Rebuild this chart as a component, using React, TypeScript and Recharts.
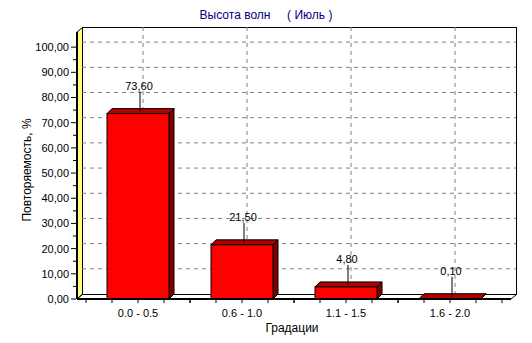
import { BarChart, Bar, XAxis, YAxis, CartesianGrid, LabelList } from 'recharts';

const categories = ['0.0 - 0.5', '0.6 - 1.0', '1.1 - 1.5', '1.6 - 2.0'];
const repeatability = [73.6, 21.5, 4.8, 0.1];
const yTicks = [0, 10, 20, 30, 40, 50, 60, 70, 80, 90, 100];
const yMax = 106;

const data = categories.map((grad, i) => ({ grad, value: repeatability[i] }));

const W = 532;
const H = 343;
const PLOT = { left: 77, top: 32, right: 21, bottom: 44 };
const PW = W - PLOT.left - PLOT.right;
const PH = H - PLOT.top - PLOT.bottom;
const DEPTH = 5;
const XPAD = 9;
const FONT = '"Liberation Sans", Arial, sans-serif';
const fmt = (v: number) => v.toFixed(2).replace('.', ',');

// library scale if the grid hands it over, otherwise the plot offset
function yPos(yAxis: any, offset: any, v: number) {
  const s = yAxis && yAxis.scale;
  if (typeof s === 'function') return s(v);
  if (s && typeof s.map === 'function') return s.map(v);
  return offset.top + offset.height * (1 - v / yMax);
}

function xCenter(xAxis: any, offset: any, i: number) {
  const s = xAxis && xAxis.scale;
  if (typeof s === 'function' && typeof s.bandwidth === 'function') return s(categories[i]) + s.bandwidth() / 2;
  const band = (offset.width - 2 * XPAD) / categories.length;
  return offset.left + XPAD + band * (i + 0.5);
}

// back wall, left wall and floor of the 3D box, behind the chart
function Walls() {
  const x = PLOT.left;
  const y = PLOT.top;
  const b = y + PH;
  const d = DEPTH;
  return (
    <svg width={W} height={H} style={{ position: 'absolute', left: 0, top: 0 }}>
      <rect x={x + d + 0.5} y={y - d + 0.5} width={PW} height={PH} fill="#fff" stroke="#000" />
      <polygon
        points={`${x},${y} ${x + d + 0.5},${y - d + 0.5} ${x + d + 0.5},${b - d} ${x},${b}`}
        fill="#ffff80"
        stroke="#000"
      />
      <polygon
        points={`${x},${b} ${x + d + 0.5},${b - d + 0.5} ${x + PW + d + 0.5},${b - d + 0.5} ${x + PW},${b}`}
        fill="#fff"
        stroke="#000"
      />
    </svg>
  );
}

function Bar3D(props: any) {
  const { x, y, width, height } = props;
  const d = DEPTH;
  const r = x + width;
  return (
    <g>
      <polygon
        points={`${r},${y} ${r + d},${y - d} ${r + d},${y + height - d} ${r},${y + height}`}
        fill="#800000"
        stroke="#000"
      />
      <polygon
        points={`${x},${y} ${x + d},${y - d} ${r + d},${y - d} ${r},${y}`}
        fill="#b00000"
        stroke="#000"
      />
      <rect x={x} y={y} width={width} height={height} fill="#ff0000" stroke="#000" />
    </g>
  );
}

function MarkLabel(props: any) {
  const { x, y, width, value } = props;
  const cx = x + width / 2 + 2;
  return (
    <g>
      <line x1={cx} y1={y - 2} x2={cx} y2={y - 22} stroke="#000" />
      <text
        x={x + width / 2 + 1}
        y={y - 28}
        textAnchor="middle"
        dominantBaseline="central"
        fontFamily={FONT}
        fontSize={11}
        fill="#000"
      >
        {fmt(value)}
      </text>
    </g>
  );
}

function XTick(props: any) {
  const { x, y, payload } = props;
  return (
    <g>
      {[-52, -26, 0, 26, 52].map((o) => (
        <line key={o} x1={x + o} y1={y} x2={x + o} y2={y + 4} stroke="#000" />
      ))}
      <text
        x={x}
        y={y + 14}
        textAnchor="middle"
        dominantBaseline="central"
        fontFamily={FONT}
        fontSize={11}
        fill="#000"
      >
        {payload.value}
      </text>
    </g>
  );
}

function YTick(props: any) {
  const { x, y, payload } = props;
  const half = 12.6;
  return (
    <g>
      <line x1={x - 6} y1={y} x2={x - 1} y2={y} stroke="#000" />
      {payload.value > 0 && <line x1={x - 4} y1={y + half} x2={x - 1} y2={y + half} stroke="#000" />}
      <text
        x={x - 8}
        y={y}
        textAnchor="end"
        dominantBaseline="central"
        fontFamily={FONT}
        fontSize={11}
        fill="#000"
      >
        {fmt(payload.value)}
      </text>
    </g>
  );
}

export default function App() {
  return (
    <div style={{ position: 'absolute', left: 0, top: 0, width: W, height: H, background: '#fff' }}>
      <Walls />
      <div style={{ position: 'absolute', left: 0, top: 0 }}>
        <BarChart
          width={W}
          height={H}
          data={data}
          margin={{ top: PLOT.top, right: PLOT.right, bottom: 0, left: 0 }}
          barSize={62}
        >
          <CartesianGrid
            x={PLOT.left + DEPTH}
            y={PLOT.top - DEPTH}
            width={PW}
            height={PH}
            stroke="#808080"
            strokeDasharray="4 4"
            horizontalCoordinatesGenerator={({ yAxis, offset }: any) =>
              yTicks.filter((t) => t > 0).map((t) => yPos(yAxis, offset, t) - DEPTH)
            }
            verticalCoordinatesGenerator={({ xAxis, offset }: any) =>
              categories.map((_, i) => xCenter(xAxis, offset, i) + DEPTH)
            }
          />
          <XAxis
            dataKey="grad"
            padding={{ left: XPAD, right: XPAD }}
            axisLine={{ stroke: '#000', strokeWidth: 2 }}
            tickLine={false}
            tickSize={0}
            tickMargin={0}
            tick={<XTick />}
            interval={0}
            height={PLOT.bottom}
            label={(p: any) => (
              <text
                x={p.viewBox.x + p.viewBox.width / 2 - 2}
                y={p.viewBox.y + 29}
                textAnchor="middle"
                dominantBaseline="central"
                fontFamily={FONT}
                fontSize={12}
                fill="#000"
              >
                Градации
              </text>
            )}
          />
          <YAxis
            domain={[0, yMax]}
            ticks={yTicks}
            allowDataOverflow
            axisLine={{ stroke: '#000', strokeWidth: 2 }}
            tickLine={false}
            tickSize={0}
            tickMargin={0}
            tick={<YTick />}
            width={PLOT.left}
            label={() => (
              <text
                x={27}
                y={170}
                transform="rotate(-90 27 170)"
                textAnchor="middle"
                dominantBaseline="central"
                fontFamily={FONT}
                fontSize={12}
                fill="#000"
              >
                Повторяемость, %
              </text>
            )}
          />
          <Bar dataKey="value" shape={<Bar3D />} isAnimationActive={false}>
            <LabelList dataKey="value" content={<MarkLabel />} />
          </Bar>
        </BarChart>
      </div>
      <div
        style={{
          position: 'absolute',
          left: 0,
          top: 8,
          width: W,
          textAlign: 'center',
          fontFamily: FONT,
          fontSize: 12,
          color: '#000080',
          whiteSpace: 'pre',
        }}
      >
        {'Высота волн     ( Июль )'}
      </div>
    </div>
  );
}
